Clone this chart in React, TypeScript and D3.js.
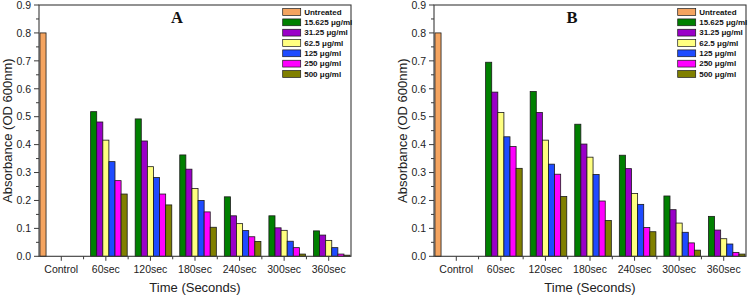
import React from "react";
import * as d3 from "d3";

const categories = ["Control", "60sec", "120sec", "180sec", "240sec", "300sec", "360sec"];
const seriesNames = ["Untreated", "15.625 μg/ml", "31.25 μg/ml", "62.5 μg/ml", "125 μg/ml", "250 μg/ml", "500 μg/ml"];
const seriesColors = ["#F4A460", "#008000", "#9A00C8", "#FFFF80", "#1E4BFF", "#FF00FF", "#808000"];
const yTicks = [0.0, 0.1, 0.2, 0.3, 0.4, 0.5, 0.6, 0.7, 0.8, 0.9];

// Panel A
const untreatedA = [0.8, 0, 0, 0, 0, 0, 0];
const c15A = [0, 0.518, 0.492, 0.363, 0.213, 0.145, 0.091];
const c31A = [0, 0.481, 0.413, 0.312, 0.145, 0.102, 0.076];
const c62A = [0, 0.416, 0.321, 0.243, 0.117, 0.093, 0.057];
const c125A = [0, 0.339, 0.282, 0.2, 0.092, 0.054, 0.031];
const c250A = [0, 0.271, 0.223, 0.159, 0.07, 0.031, 0.008];
const c500A = [0, 0.223, 0.184, 0.104, 0.053, 0.008, 0.004];

// Panel B
const untreatedB = [0.8, 0, 0, 0, 0, 0, 0];
const c15B = [0, 0.695, 0.59, 0.473, 0.362, 0.216, 0.143];
const c31B = [0, 0.588, 0.515, 0.402, 0.314, 0.167, 0.094];
const c62B = [0, 0.515, 0.416, 0.355, 0.225, 0.119, 0.063];
const c125B = [0, 0.428, 0.33, 0.293, 0.186, 0.086, 0.044];
const c250B = [0, 0.393, 0.294, 0.198, 0.103, 0.048, 0.014];
const c500B = [0, 0.315, 0.214, 0.128, 0.088, 0.022, 0.008];

const seriesA = [untreatedA, c15A, c31A, c62A, c125A, c250A, c500A];
const seriesB = [untreatedB, c15B, c31B, c62B, c125B, c250B, c500B];

const SANS = "'Liberation Sans', Arial, sans-serif";
const SERIF = "'Liberation Serif', 'Times New Roman', serif";

function Panel({ ox, title, series }: { ox: number; title: string; series: number[][] }) {
  const left = 39, right = 351, top = 5, bottom = 256.3;
  const x = d3.scaleBand<string>().domain(categories).range([left, right]).paddingInner(0).paddingOuter(0);
  const inner = d3.scaleBand<string>().domain(seriesNames).range([0.95, x.bandwidth() - 0.95]);
  const y = d3.scaleLinear().domain([0, 0.9]).range([bottom, top]);
  const minorY = d3.range(0.05, 0.9, 0.1);
  const axisColor = "#3a3a3a";

  return (
    <g transform={`translate(${ox},0)`}>
      {/* bars */}
      {series.map((vals, si) =>
        vals.map((v, ci) =>
          v > 0 ? (
            <rect
              key={`${si}-${ci}`}
              x={(x(categories[ci]) ?? 0) + (inner(seriesNames[si]) ?? 0)}
              y={y(v)}
              width={inner.bandwidth()}
              height={y(0) - y(v)}
              fill={seriesColors[si]}
              stroke="#1a1a1a"
              strokeWidth={0.8}
            />
          ) : null
        )
      )}
      {/* frame */}
      <rect x={left} y={top} width={right - left} height={bottom - top} fill="none" stroke={axisColor} strokeWidth={1.1} />
      {/* y ticks */}
      {yTicks.map((t) => (
        <g key={`yt${t}`}>
          <line x1={left - 5} x2={left} y1={y(t)} y2={y(t)} stroke={axisColor} strokeWidth={1} />
          <text x={31} y={y(t)} dy="0.36em" textAnchor="end" fontFamily={SANS} fontSize={10.5} fill="#222">
            {t.toFixed(1)}
          </text>
        </g>
      ))}
      {minorY.map((t) => (
        <line key={`ym${t}`} x1={left - 3} x2={left} y1={y(t)} y2={y(t)} stroke={axisColor} strokeWidth={1} />
      ))}
      {/* x ticks */}
      {categories.map((c) => (
        <g key={`xt${c}`}>
          <line
            x1={(x(c) ?? 0) + x.bandwidth() / 2}
            x2={(x(c) ?? 0) + x.bandwidth() / 2}
            y1={bottom}
            y2={bottom + 4.5}
            stroke={axisColor}
            strokeWidth={1}
          />
          <text x={(x(c) ?? 0) + x.bandwidth() / 2} y={273} textAnchor="middle" fontFamily={SANS} fontSize={10.5} fill="#222">
            {c}
          </text>
        </g>
      ))}
      {categories.slice(1).map((c) => (
        <line key={`xm${c}`} x1={x(c) ?? 0} x2={x(c) ?? 0} y1={bottom} y2={bottom + 3} stroke={axisColor} strokeWidth={1} />
      ))}
      {/* axis titles */}
      <text x={(left + right) / 2} y={292} textAnchor="middle" fontFamily={SANS} fontSize={13} fill="#222">
        Time (Seconds)
      </text>
      <text
        transform={`translate(12,${(top + bottom) / 2}) rotate(-90)`}
        textAnchor="middle"
        fontFamily={SANS}
        fontSize={13}
        fill="#222"
      >
        Absorbance (OD 600nm)
      </text>
      {/* panel title */}
      <text x={177} y={22.7} textAnchor="middle" fontFamily={SERIF} fontWeight="bold" fontSize={16.5} fill="#111">
        {title}
      </text>
      {/* legend */}
      {seriesNames.map((n, i) => (
        <g key={`lg${n}`} transform={`translate(282.7,${12 + i * 10.33})`}>
          <rect x={0} y={-3.4} width={18} height={6.8} fill={seriesColors[i]} stroke="#1a1a1a" strokeWidth={0.7} />
          <text x={21.5} y={0} dy="0.35em" fontFamily={SANS} fontWeight="bold" fontSize={8} fill="#111">
            {n}
          </text>
        </g>
      ))}
    </g>
  );
}

export default function App() {
  return (
    <svg
      width={749}
      height={297}
      style={{ position: "absolute", left: 0, top: 0, background: "#fff" }}
    >
      <rect width={749} height={297} fill="#fff" />
      <Panel ox={0} title="A" series={seriesA} />
      <Panel ox={395} title="B" series={seriesB} />
    </svg>
  );
}
